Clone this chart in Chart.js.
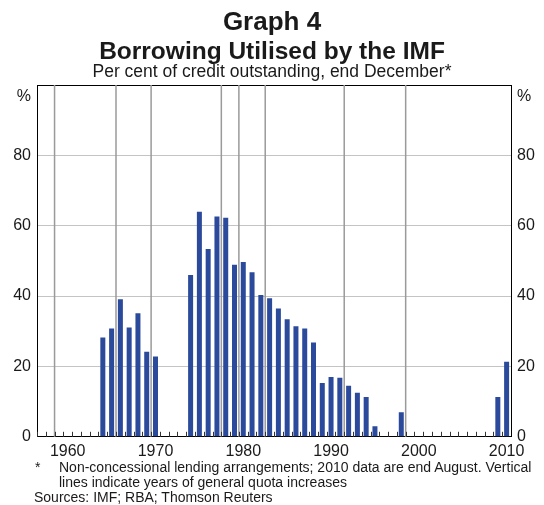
<!DOCTYPE html>
<html lang="en">
<head>
  <meta charset="UTF-8" />
  <title>Graph 4</title>
  <script src="https://cdn.jsdelivr.net/npm/chart.js"></script>
  <style>
    body { margin: 0; background: #fff; font-family: "Liberation Sans", Arial, sans-serif; color: #1a1a1a; }
    #wrap { position: relative; width: 544px; height: 505px; overflow: hidden; }
    #box { position: absolute; left: 0; top: 0; width: 544px; height: 467px; }
    .head { position: absolute; left: 0; width: 544px; text-align: center; line-height: 1; white-space: nowrap; }
    .note { position: absolute; font-size: 14px; line-height: 15.3px; white-space: nowrap; }
  </style>
</head>
<body>
  <div id="wrap">
    <div id="box"><canvas id="chart"></canvas></div>
    <div class="head" style="top:8px; font-size:26px; font-weight:bold;">Graph 4</div>
    <div class="head" style="top:39px; font-size:24.5px; font-weight:bold;">Borrowing Utilised by the IMF</div>
    <div class="head" style="top:62.5px; font-size:17.5px;">Per cent of credit outstanding, end December*</div>
    <div class="note" style="left:35px; top:460px;">*</div>
    <div class="note" style="left:59px; top:460px;">Non-concessional lending arrangements; 2010 data are end August. Vertical<br>lines indicate years of general quota increases</div>
    <div class="note" style="left:34px; top:490px;">Sources: IMF; RBA; Thomson Reuters</div>
  </div>

  <script>
    // years on the axis (end December, 2010 = end August)
    const years = ['1957', '1958', '1959', '1960', '1961', '1962', '1963', '1964', '1965', '1966',
                   '1967', '1968', '1969', '1970', '1971', '1972', '1973', '1974', '1975', '1976',
                   '1977', '1978', '1979', '1980', '1981', '1982', '1983', '1984', '1985', '1986',
                   '1987', '1988', '1989', '1990', '1991', '1992', '1993', '1994', '1995', '1996',
                   '1997', '1998', '1999', '2000', '2001', '2002', '2003', '2004', '2005', '2006',
                   '2007', '2008', '2009', '2010'];

    // borrowing utilised, per cent of credit outstanding
    const borrowing = [null, null, null, null, null, null, null, 28.2, 30.8, 39.1,
                       31.1, 35.1, 24.2, 22.8, null, null, null, 46.0, 64.0, 53.4,
                       62.6, 62.3, 48.9, 49.7, 46.8, 40.3, 39.4, 36.5, 33.4, 31.4,
                       30.8, 26.8, 15.3, 17.0, 16.8, 14.5, 12.5, 11.3, 3.0, null,
                       null, 7.0, null, null, null, null, null, null, null, null,
                       null, null, 11.3, 21.3];

    // general quota increases: line drawn at the start of these years
    const quotaYears = ['1959', '1966', '1970', '1978', '1980', '1983', '1992', '1999'];

    const labelYears = ['1960', '1970', '1980', '1990', '2000', '2010'];
    const yTicks = [0, 20, 40, 60, 80, 100];

    const ink = '#1a1a1a';
    const tickFont = { family: 'Liberation Sans', size: 16 };
    const yFont = { family: 'Liberation Sans', size: 16, lineHeight: 1.4 };

    function yLabel(v) {
      if (!yTicks.includes(v)) return null;
      return v === 100 ? ['', '%'] : String(v);
    }

    // quota lines and the small year ticks along the bottom, placed by the x scale
    const yearMarks = {
      id: 'yearMarks',
      beforeDatasetsDraw(chart) {
        const { ctx, chartArea, scales: { x } } = chart;
        const half = (x.getPixelForValue(1) - x.getPixelForValue(0)) / 2;
        ctx.save();
        ctx.strokeStyle = '#9a9a9a';
        ctx.lineWidth = 1.5;
        quotaYears.forEach(yr => {
          const px = x.getPixelForValue(years.indexOf(yr)) - half;
          ctx.beginPath();
          ctx.moveTo(px, chartArea.top);
          ctx.lineTo(px, chartArea.bottom);
          ctx.stroke();
        });
        ctx.strokeStyle = '#333';
        ctx.lineWidth = 1;
        years.forEach((yr, i) => {
          const px = Math.round(x.getPixelForValue(i) - half) + 0.5;
          ctx.beginPath();
          ctx.moveTo(px, chartArea.bottom);
          ctx.lineTo(px, chartArea.bottom - 5);
          ctx.stroke();
        });
        ctx.restore();
      }
    };

    new Chart(document.getElementById('chart'), {
      type: 'bar',
      data: {
        labels: years,
        datasets: [{
          data: borrowing,
          backgroundColor: '#2b4a9c',
          barPercentage: 0.57,
          categoryPercentage: 1.0
        }]
      },
      options: {
        responsive: true,
        maintainAspectRatio: false,
        animation: false,
        layout: { padding: { left: 0, right: 0, top: 85, bottom: 1 } },
        plugins: {
          legend: { display: false },
          tooltip: { enabled: false }
        },
        scales: {
          x: {
            offset: true,
            grid: { display: false, drawTicks: false },
            border: { color: '#000', width: 1 },
            ticks: {
              autoSkip: false,
              maxRotation: 0,
              padding: 5,
              color: ink,
              font: tickFont,
              callback: function (v, i) {
                return labelYears.includes(years[i]) ? years[i] : '';
              }
            }
          },
          y: {
            position: 'left',
            min: 0,
            max: 100,
            afterFit: s => { s.width = 37; },
            grid: {
              color: ctx => {
                const v = ctx.tick ? ctx.tick.value : null;
                if (v === 100) return '#000';
                if (v === 0) return 'rgba(0,0,0,0)';
                return '#c4c4c4';
              },
              lineWidth: 1,
              drawTicks: false
            },
            border: { color: '#000', width: 1 },
            ticks: { stepSize: 20, padding: 6, color: ink, font: yFont, callback: yLabel }
          },
          y2: {
            position: 'right',
            min: 0,
            max: 100,
            afterFit: s => { s.width = 33; },
            grid: { drawOnChartArea: false, drawTicks: false },
            border: { color: '#000', width: 1 },
            ticks: { stepSize: 20, padding: 6, color: ink, font: yFont, callback: yLabel }
          }
        }
      },
      plugins: [yearMarks]
    });
  </script>
</body>
</html>
